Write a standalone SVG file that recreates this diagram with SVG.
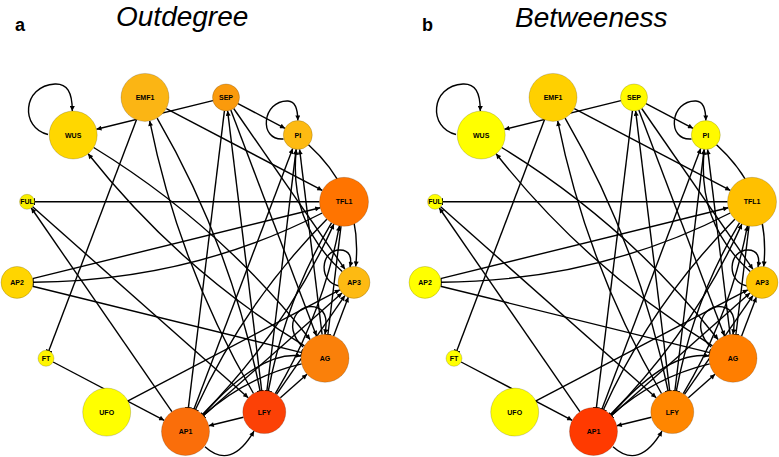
<svg xmlns="http://www.w3.org/2000/svg" width="779" height="457" viewBox="0 0 779 457">
<style>
.e{fill:none;stroke:#000;stroke-width:1.4}
.a{marker-end:url(#arr)}
.b{marker-end:url(#bar)}
.n circle{stroke:#000;stroke-opacity:.22;stroke-width:.8}
.n text{font-family:"Liberation Sans",Arial,sans-serif;font-weight:bold;font-size:7px;text-anchor:middle}
.t{font-family:"Liberation Sans",Arial,sans-serif;font-style:italic;font-size:28px}
.p{font-family:"Liberation Sans",Arial,sans-serif;font-weight:bold;font-size:18px}
</style>
<defs>
<marker id="arr" viewBox="0 0 10 10" refX="10" refY="5" markerWidth="7" markerHeight="5" markerUnits="userSpaceOnUse" orient="auto"><path d="M0,0L10,5L0,10z"/></marker>
<marker id="bar" viewBox="0 0 2 10" refX="1" refY="5" markerWidth="1.6" markerHeight="7" markerUnits="userSpaceOnUse" orient="auto"><rect width="2" height="10"/></marker>
</defs>
<rect width="779" height="457" fill="#fff"/>
<text class="p" x="15" y="30.5">a</text>
<text class="t" x="116" y="25.5">Outdegree</text>
<text class="p" x="422" y="30.5">b</text>
<text class="t" x="515" y="26.5">Betweeness</text>

<g id="panel-a">
<g id="edges-a">
<path class="e a" d="M212.9,100.6L96.5,129.3"/>
<path class="e b" d="M136.5,119.8L48.8,350.8"/>
<path class="e a" d="M166.3,108.6L322.3,190.4"/>
<path class="e a" d="M253.5,393.5Q178.5,264.7 149.7,120.9"/>
<path class="e b" d="M157.1,118.1Q230.8,244.8 260.1,391"/>
<path class="e a" d="M238,103.7L285,128.3"/>
<path class="e a" d="M308.5,144.7Q363.3,194.5 355.7,266.5"/>
<path class="e a" d="M342.2,271.6Q288.5,222.9 296.3,149.4"/>
<path class="e a" d="M283.5,139C258,141 262,100 288,101Q297.8,101.5 297.8,120.5"/>
<path class="e a" d="M48,134.5C20,128 22,86 55,84C67,83.5 72.3,92 72.3,111"/>
<path class="e a" d="M339,286C318,282 320,250 340,250C350,250 352,258 350,267"/>
<path class="e b" d="M319.5,201.8L34.5,201.8"/>
<path class="e a" d="M32.5,278.6L320.2,207.7"/>
<path class="e b" d="M322.2,213Q190.1,280.9 33,282.3"/>
<path class="e b" d="M32.5,286.2L301.7,352.6"/>
<path class="e a" d="M53.1,362L164.2,420.3"/>
<path class="e a" d="M128,400.9L339.8,289.8"/>
<path class="e a" d="M243.4,417.2L208.8,425.8"/>
<path class="e a" d="M205,446.7Q231,470.4 254,431.2"/>
<path class="e a" d="M280.4,397.8L307,374.2"/>
<path class="e a" d="M171.9,411.7L31.3,208"/>
<path class="e a" d="M32.6,206.8L248.2,397.8"/>
<path class="e a" d="M93.7,147.5Q219,224.2 310.1,339.5"/>
<path class="e a" d="M304.5,345.8Q179.2,269.1 88.1,153.8"/>
<path class="e a" d="M230.8,110L316.5,335.9"/>
<path class="e a" d="M233.7,108.5L344.9,269.2"/>
<path class="e a" d="M261.7,390.7L227.6,110.8"/>
<path class="e a" d="M194,409.1L292.7,148.6"/>
<path class="e a" d="M266.9,390.7L296.1,149.4"/>
<path class="e a" d="M322.1,334.5L299.6,149.4"/>
<path class="e b" d="M331.5,222.8Q285.5,299.9 268.3,391"/>
<path class="e a" d="M275.3,393.6Q322.8,314 339.4,225.9"/>
<path class="e b" d="M326.8,219.2Q244.2,302.5 195.4,409.7"/>
<path class="e a" d="M202.4,414.5Q285.3,330.9 333.9,224.1"/>
<path class="e b" d="M341,226.1L327.9,334.5"/>
<path class="e b" d="M301.6,363.9Q245.9,377.2 203.4,415.4"/>
<path class="e a" d="M203.5,415.6L342,293"/>
<path class="e a" d="M276.5,394.4L344.9,295.6"/>
<path class="e a" d="M333.6,335.9L348.3,297.3"/>
<path class="e b" d="M224.4,110.8L188.4,407.7"/>
<path class="e a" d="M303,347C280,325 300,300 318,308C327,312 327,322 325,334.3"/>
<path class="e a" d="M203,415Q260,350 301,356"/>
</g>
<g id="a-AP1" class="n"><circle cx="185.5" cy="431.5" r="24" fill="#FA6E0A"/><text x="185.5" y="434">AP1</text></g>
<g id="a-LFY" class="n"><circle cx="264.3" cy="412.1" r="21.5" fill="#FC4106"/><text x="264.3" y="414.6">LFY</text></g>
<g id="a-AG" class="n"><circle cx="325" cy="358.3" r="24" fill="#FA800A"/><text x="325" y="360.8">AG</text></g>
<g id="a-AP3" class="n"><circle cx="354" cy="282.4" r="16" fill="#FDBA12"/><text x="354" y="284.9">AP3</text></g>
<g id="a-TFL1" class="n"><circle cx="344" cy="201.8" r="24.5" fill="#FF7400"/><text x="344" y="204.3">TFL1</text></g>
<g id="a-PI" class="n"><circle cx="297.8" cy="135" r="14.5" fill="#FDBA12"/><text x="297.8" y="137.5">PI</text></g>
<g id="a-SEP" class="n"><circle cx="226" cy="97.4" r="13.5" fill="#FA9A0C"/><text x="226" y="99.9">SEP</text></g>
<g id="a-EMF1" class="n"><circle cx="145" cy="97.4" r="24" fill="#FBB514"/><text x="145" y="99.9">EMF1</text></g>
<g id="a-WUS" class="n"><circle cx="73.2" cy="135" r="24" fill="#FFD700"/><text x="73.2" y="137.5">WUS</text></g>
<g id="a-FUL" class="n"><circle cx="27" cy="201.8" r="7.5" fill="#F8EE00"/><text x="27" y="204.3">FUL</text></g>
<g id="a-AP2" class="n"><circle cx="17" cy="282.4" r="16" fill="#FFD500"/><text x="17" y="284.9">AP2</text></g>
<g id="a-FT" class="n"><circle cx="46" cy="358.3" r="8" fill="#FFF500"/><text x="46" y="360.8">FT</text></g>
<g id="a-UFO" class="n"><circle cx="106.7" cy="412.1" r="24" fill="#FFFF00"/><text x="106.7" y="414.6">UFO</text></g>
</g>

<g id="panel-b" transform="translate(408,0)">
<g id="edges-b">
<path class="e a" d="M212.9,100.6L96.5,129.3"/>
<path class="e b" d="M136.5,119.8L48.8,350.8"/>
<path class="e a" d="M166.3,108.6L322.3,190.4"/>
<path class="e a" d="M253.5,393.5Q178.5,264.7 149.7,120.9"/>
<path class="e b" d="M157.1,118.1Q230.8,244.8 260.1,391"/>
<path class="e a" d="M238,103.7L285,128.3"/>
<path class="e a" d="M308.5,144.7Q363.3,194.5 355.7,266.5"/>
<path class="e a" d="M342.2,271.6Q288.5,222.9 296.3,149.4"/>
<path class="e a" d="M283.5,139C258,141 262,100 288,101Q297.8,101.5 297.8,120.5"/>
<path class="e a" d="M48,134.5C20,128 22,86 55,84C67,83.5 72.3,92 72.3,111"/>
<path class="e a" d="M339,286C318,282 320,250 340,250C350,250 352,258 350,267"/>
<path class="e b" d="M319.5,201.8L34.5,201.8"/>
<path class="e a" d="M32.5,278.6L320.2,207.7"/>
<path class="e b" d="M322.2,213Q190.1,280.9 33,282.3"/>
<path class="e b" d="M32.5,286.2L301.7,352.6"/>
<path class="e a" d="M53.1,362L164.2,420.3"/>
<path class="e a" d="M128,400.9L339.8,289.8"/>
<path class="e a" d="M243.4,417.2L208.8,425.8"/>
<path class="e a" d="M205,446.7Q231,470.4 254,431.2"/>
<path class="e a" d="M280.4,397.8L307,374.2"/>
<path class="e a" d="M171.9,411.7L31.3,208"/>
<path class="e a" d="M32.6,206.8L248.2,397.8"/>
<path class="e a" d="M93.7,147.5Q219,224.2 310.1,339.5"/>
<path class="e a" d="M304.5,345.8Q179.2,269.1 88.1,153.8"/>
<path class="e a" d="M230.8,110L316.5,335.9"/>
<path class="e a" d="M233.7,108.5L344.9,269.2"/>
<path class="e a" d="M261.7,390.7L227.6,110.8"/>
<path class="e a" d="M194,409.1L292.7,148.6"/>
<path class="e a" d="M266.9,390.7L296.1,149.4"/>
<path class="e a" d="M322.1,334.5L299.6,149.4"/>
<path class="e b" d="M331.5,222.8Q285.5,299.9 268.3,391"/>
<path class="e a" d="M275.3,393.6Q322.8,314 339.4,225.9"/>
<path class="e b" d="M326.8,219.2Q244.2,302.5 195.4,409.7"/>
<path class="e a" d="M202.4,414.5Q285.3,330.9 333.9,224.1"/>
<path class="e b" d="M341,226.1L327.9,334.5"/>
<path class="e b" d="M301.6,363.9Q245.9,377.2 203.4,415.4"/>
<path class="e a" d="M203.5,415.6L342,293"/>
<path class="e a" d="M276.5,394.4L344.9,295.6"/>
<path class="e a" d="M333.6,335.9L348.3,297.3"/>
<path class="e b" d="M224.4,110.8L188.4,407.7"/>
<path class="e a" d="M303,347C280,325 300,300 318,308C327,312 327,322 325,334.3"/>
<path class="e a" d="M203,415Q260,350 301,356"/>
</g>
<g id="b-AP1" class="n"><circle cx="185.5" cy="431.5" r="24" fill="#FF3A00"/><text x="185.5" y="434">AP1</text></g>
<g id="b-LFY" class="n"><circle cx="264.3" cy="412.1" r="21.5" fill="#FF8600"/><text x="264.3" y="414.6">LFY</text></g>
<g id="b-AG" class="n"><circle cx="325" cy="358.3" r="24" fill="#FF7E00"/><text x="325" y="360.8">AG</text></g>
<g id="b-AP3" class="n"><circle cx="354" cy="282.4" r="16" fill="#FFC500"/><text x="354" y="284.9">AP3</text></g>
<g id="b-TFL1" class="n"><circle cx="344" cy="201.8" r="24.5" fill="#FFC000"/><text x="344" y="204.3">TFL1</text></g>
<g id="b-PI" class="n"><circle cx="297.8" cy="135" r="14.5" fill="#FFFA00"/><text x="297.8" y="137.5">PI</text></g>
<g id="b-SEP" class="n"><circle cx="226" cy="97.4" r="13.5" fill="#FFFA00"/><text x="226" y="99.9">SEP</text></g>
<g id="b-EMF1" class="n"><circle cx="145" cy="97.4" r="24" fill="#FFD000"/><text x="145" y="99.9">EMF1</text></g>
<g id="b-WUS" class="n"><circle cx="73.2" cy="135" r="24" fill="#FFFF00"/><text x="73.2" y="137.5">WUS</text></g>
<g id="b-FUL" class="n"><circle cx="27" cy="201.8" r="7.5" fill="#FFFF00"/><text x="27" y="204.3">FUL</text></g>
<g id="b-AP2" class="n"><circle cx="17" cy="282.4" r="16" fill="#FFFF00"/><text x="17" y="284.9">AP2</text></g>
<g id="b-FT" class="n"><circle cx="46" cy="358.3" r="8" fill="#FFFF00"/><text x="46" y="360.8">FT</text></g>
<g id="b-UFO" class="n"><circle cx="106.7" cy="412.1" r="24" fill="#FFFF00"/><text x="106.7" y="414.6">UFO</text></g>
</g>
</svg>
